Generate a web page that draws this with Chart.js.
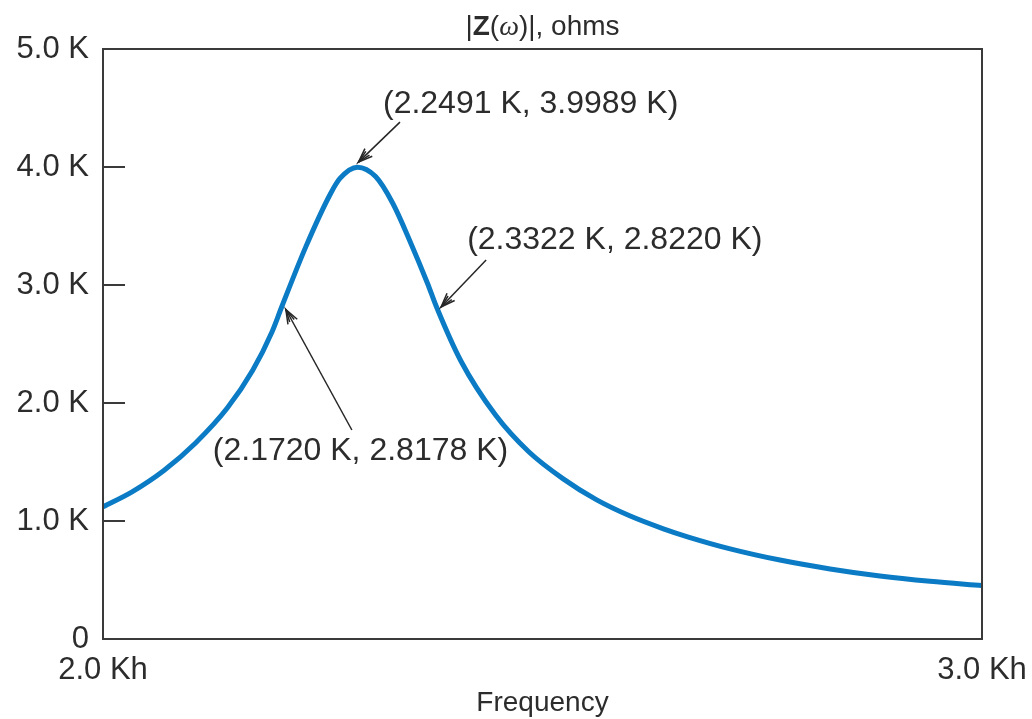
<!DOCTYPE html>
<html>
<head>
<meta charset="utf-8">
<title>|Z(ω)| vs Frequency</title>
<script src="https://cdn.jsdelivr.net/npm/chart.js@4.4.1/dist/chart.umd.min.js"></script>
<style>
  html, body { margin: 0; padding: 0; background: #ffffff; }
  canvas { display: block; }
</style>
</head>
<body>
<canvas id="chart" width="1032" height="719"></canvas>
<script>
// Impedance magnitude of the resonant circuit (frequency and |Z| both in K units)
const frequencyK = [2.000, 2.027, 2.057, 2.087, 2.118, 2.143, 2.162, 2.1720, 2.196, 2.221,
                    2.231, 2.2491, 2.268, 2.286, 2.304, 2.323, 2.3322, 2.359, 2.397, 2.434,
                    2.473, 2.511, 2.550, 2.590, 2.620, 2.671, 2.733, 2.797, 2.862, 2.929,
                    3.000];
const impedanceK = [1.120, 1.247, 1.428, 1.659, 1.957, 2.277, 2.600, 2.8178, 3.321, 3.769,
                    3.903, 3.9989, 3.919, 3.693, 3.376, 3.013, 2.8220, 2.356, 1.898, 1.587,
                    1.357, 1.181, 1.044, 0.934, 0.864, 0.764, 0.669, 0.594, 0.534, 0.489,
                    0.453];

// Axis ticks
const xTickValues = [2.0, 3.0];
const xTickLabels = ['2.0 Kh', '3.0 Kh'];
const yTickValues = [0, 1, 2, 3, 4, 5];
const yTickLabels = ['0', '1.0 K', '2.0 K', '3.0 K', '4.0 K', '5.0 K'];

// Marked points: resonance peak and the two half-power points
const markerFreq = [2.2491, 2.3322, 2.1720];
const markerZ = [3.9989, 2.8220, 2.8178];
const markerText = ['(2.2491 K, 3.9989 K)', '(2.3322 K, 2.8220 K)', '(2.1720 K, 2.8178 K)'];

// Callout geometry in pixels: arrow head offset from the point, tail offset from the head,
// label left edge / vertical middle offset from the head
const calloutLayout = [
  { head: [1, -5], tail: [41.5, -40], text: [24.5, -58] },
  { head: [5, 1],  tail: [45, -47],   text: [26, -67] },
  { head: [4, 3],  tail: [66, 120.5], text: [-73, 141.5] }
];

const FONT = '"Liberation Sans", Arial, Helvetica, sans-serif';
const TEXT_COLOR = '#2c2c2c';
const AXIS_COLOR = '#3a3a3a';
const LINE_COLOR = '#0a7bc4';

function drawArrow(ctx, hx, hy, tx, ty) {
  const ang = Math.atan2(hy - ty, hx - tx);
  ctx.beginPath();
  ctx.moveTo(tx, ty);
  ctx.lineTo(hx, hy);
  ctx.stroke();
  const barbs = [[15, 0.36], [13, 0.2]];
  barbs.forEach(([len, spread]) => {
    ctx.beginPath();
    ctx.moveTo(hx - len * Math.cos(ang - spread), hy - len * Math.sin(ang - spread));
    ctx.lineTo(hx, hy);
    ctx.lineTo(hx - len * Math.cos(ang + spread), hy - len * Math.sin(ang + spread));
    ctx.stroke();
  });
}

const decorations = {
  id: 'decorations',
  afterDatasetsDraw(chart) {
    const { ctx, chartArea: a, scales: { x, y } } = chart;
    ctx.save();

    // Frame around the plot
    ctx.strokeStyle = AXIS_COLOR;
    ctx.lineWidth = 2;
    ctx.strokeRect(a.left, a.top, a.right - a.left, a.bottom - a.top);

    // Inward tick marks on the value axis
    yTickValues.forEach(v => {
      const py = Math.round(y.getPixelForValue(v));
      ctx.beginPath();
      ctx.moveTo(a.left, py);
      ctx.lineTo(a.left + 22, py);
      ctx.stroke();
    });

    // Title: |Z(ω)|, ohms
    const parts = [
      { t: '|', f: '28px ' + FONT },
      { t: 'Z', f: 'bold 28px ' + FONT },
      { t: '(', f: '28px ' + FONT },
      { t: 'ω', f: 'italic 28px "Liberation Serif", "DejaVu Serif", serif' },
      { t: ')|, ohms', f: '28px ' + FONT }
    ];
    let total = 0;
    parts.forEach(p => { ctx.font = p.f; p.w = ctx.measureText(p.t).width; total += p.w; });
    let cx = (a.left + a.right) / 2 - total / 2;
    ctx.fillStyle = TEXT_COLOR;
    ctx.textBaseline = 'alphabetic';
    ctx.textAlign = 'left';
    parts.forEach(p => { ctx.font = p.f; ctx.fillText(p.t, cx, 35); cx += p.w; });

    // Callouts
    ctx.strokeStyle = '#262626';
    ctx.lineWidth = 1.5;
    ctx.font = '32px ' + FONT;
    ctx.textBaseline = 'middle';
    markerFreq.forEach((f, i) => {
      const L = calloutLayout[i];
      const px = x.getPixelForValue(f);
      const py = y.getPixelForValue(markerZ[i]);
      const hx = px + L.head[0], hy = py + L.head[1];
      drawArrow(ctx, hx, hy, hx + L.tail[0], hy + L.tail[1]);
      ctx.fillText(markerText[i], hx + L.text[0], hy + L.text[1]);
    });

    ctx.restore();
  }
};

new Chart(document.getElementById('chart').getContext('2d'), {
  type: 'line',
  data: {
    datasets: [{
      data: frequencyK.map((f, i) => ({ x: f, y: impedanceK[i] })),
      borderColor: LINE_COLOR,
      borderWidth: 5,
      pointRadius: 0,
      fill: false,
      cubicInterpolationMode: 'monotone'
    }]
  },
  options: {
    responsive: false,
    animation: false,
    devicePixelRatio: 1,
    layout: { padding: { top: 49, right: 50, left: 0, bottom: 0 } },
    plugins: { legend: { display: false }, tooltip: { enabled: false } },
    scales: {
      x: {
        type: 'logarithmic',
        min: 2.0,
        max: 3.0,
        grid: { display: false, drawTicks: false },
        border: { display: false },
        afterBuildTicks: s => { s.ticks = xTickValues.map(v => ({ value: v })); },
        afterFit: s => { s.height = 80; s.paddingLeft = 0; s.paddingRight = 0; },
        ticks: {
          autoSkip: false,
          maxRotation: 0,
          padding: 13,
          color: TEXT_COLOR,
          font: { family: FONT, size: 31 },
          callback: (v, i) => xTickLabels[i]
        },
        title: {
          display: true,
          text: 'Frequency',
          color: TEXT_COLOR,
          font: { family: FONT, size: 28, lineHeight: 1 },
          padding: { top: 0, bottom: 2 }
        }
      },
      y: {
        min: 0,
        max: 5,
        grid: { display: false, drawTicks: false },
        border: { display: false },
        afterBuildTicks: s => { s.ticks = yTickValues.map(v => ({ value: v })); },
        afterFit: s => { s.width = 103; },
        ticks: {
          padding: 14,
          color: TEXT_COLOR,
          font: { family: FONT, size: 31 },
          callback: (v, i) => yTickLabels[i]
        }
      }
    }
  },
  plugins: [decorations]
});
</script>
</body>
</html>
